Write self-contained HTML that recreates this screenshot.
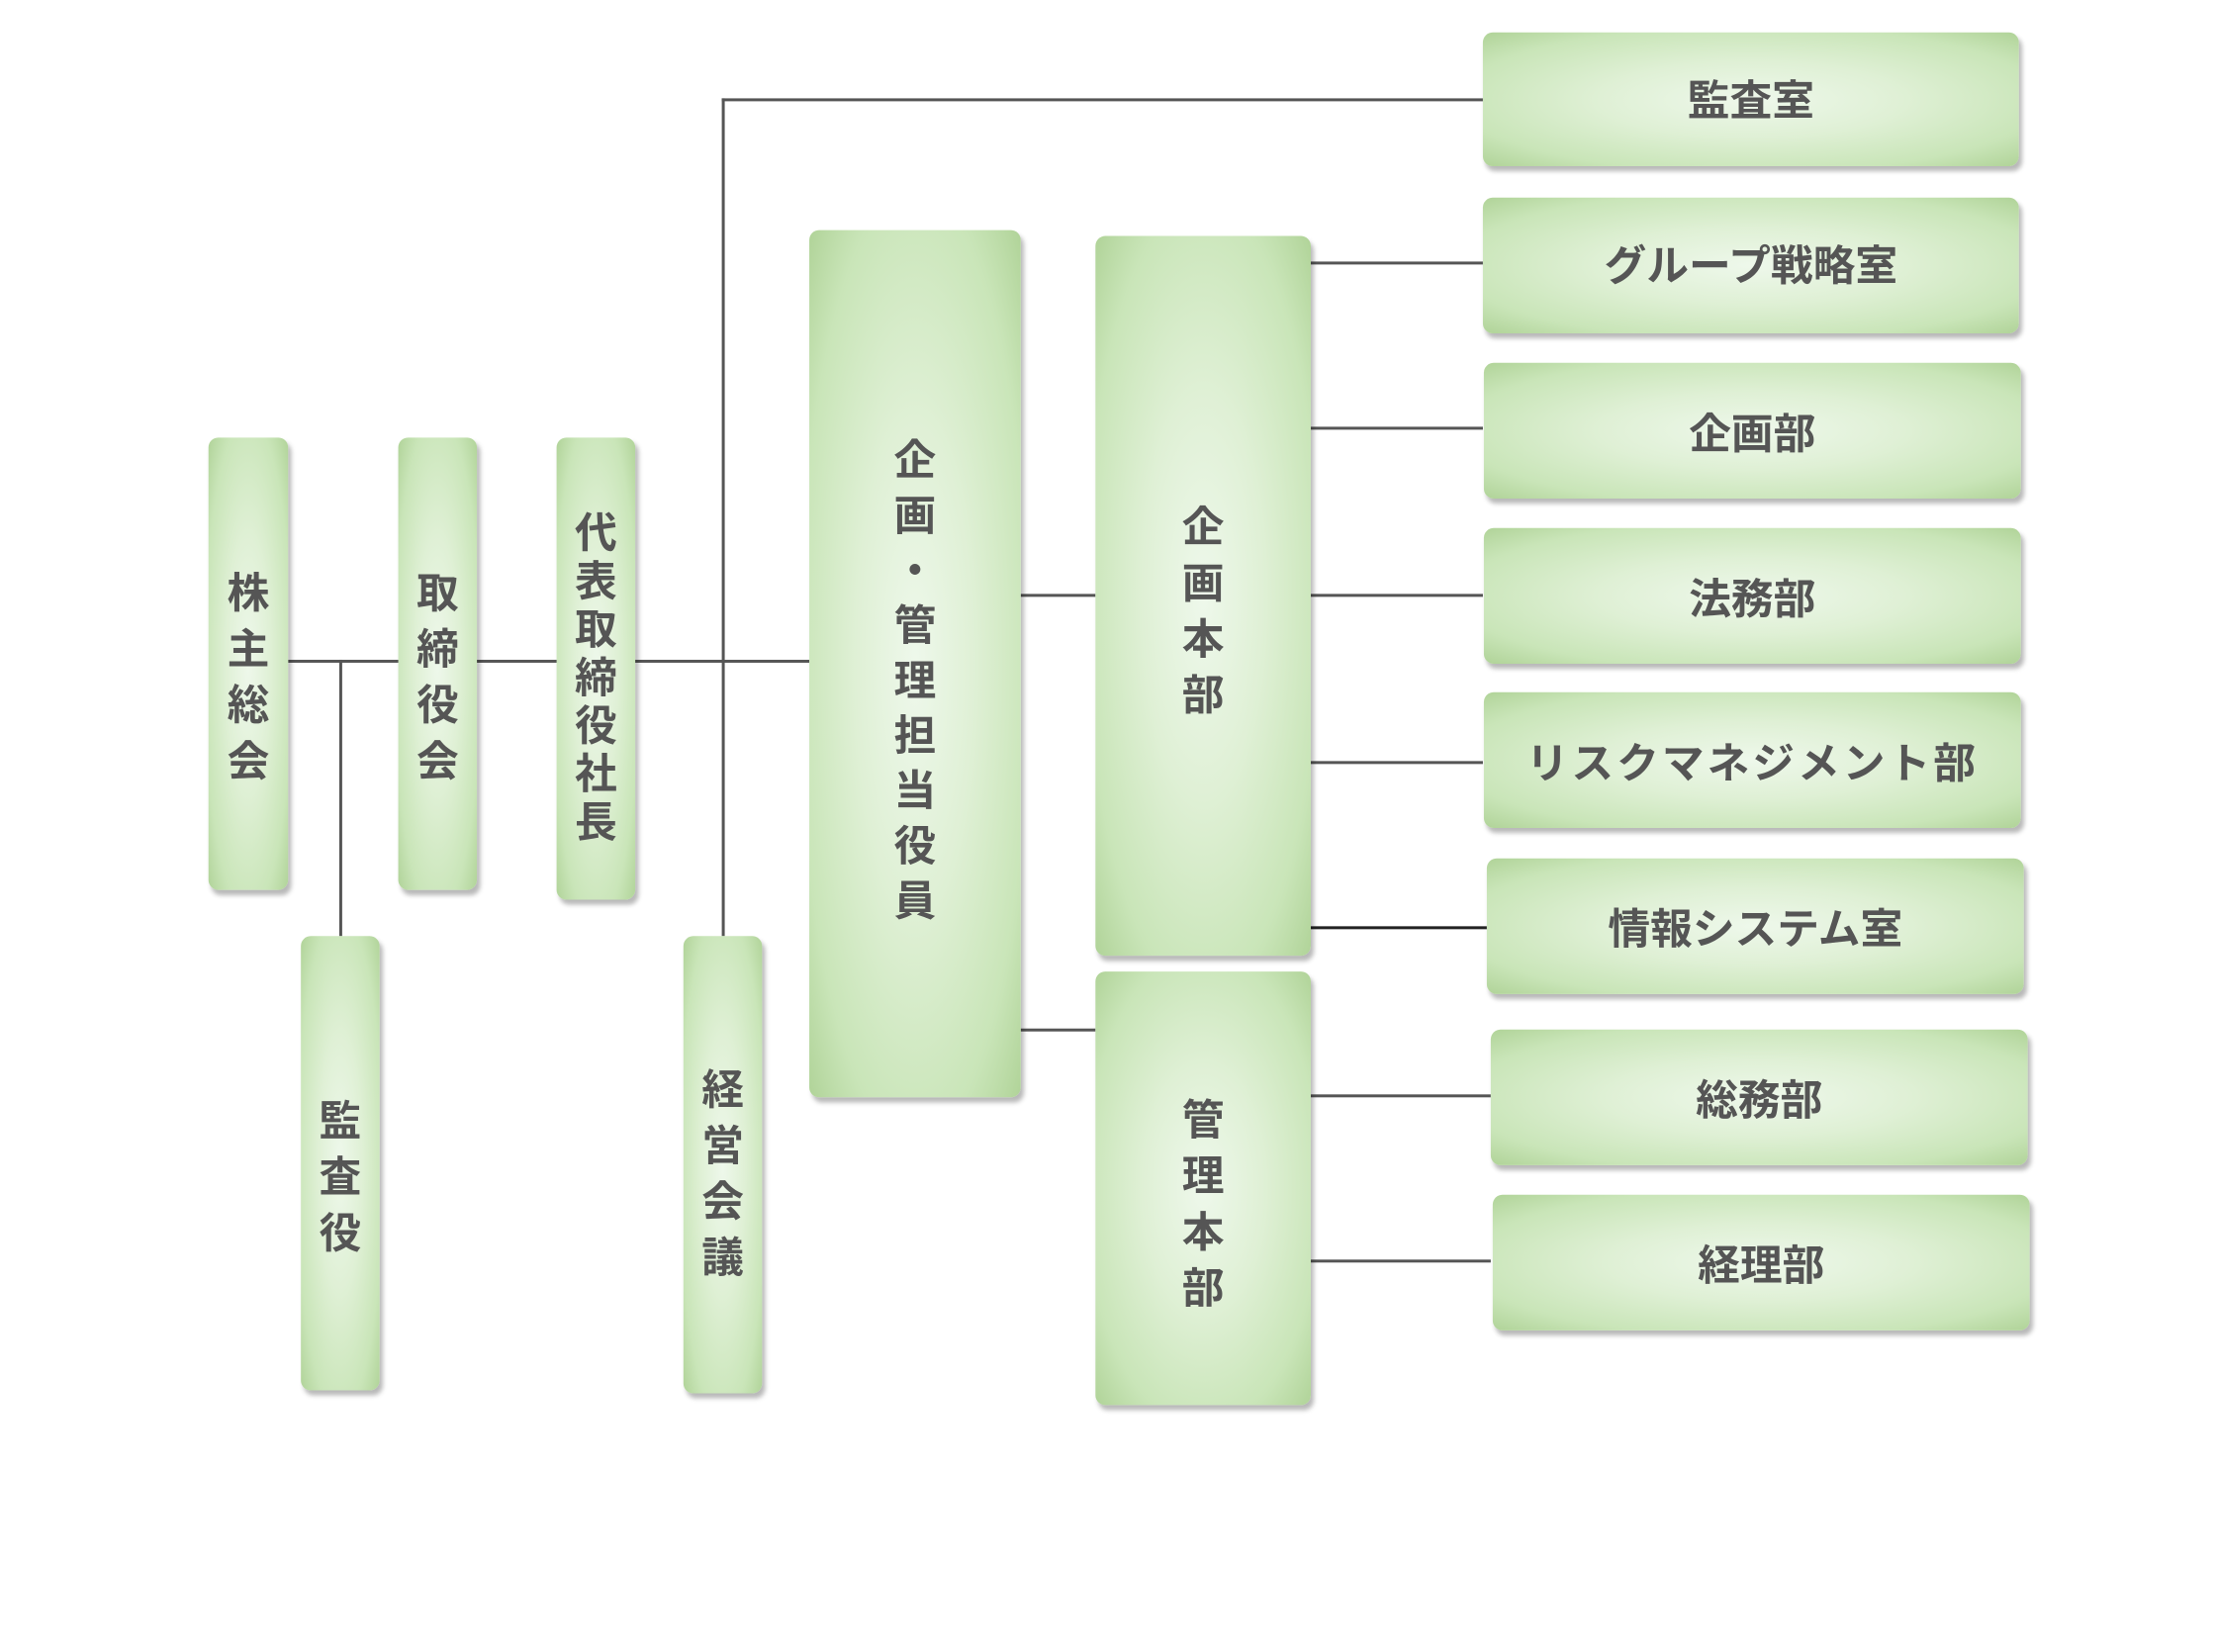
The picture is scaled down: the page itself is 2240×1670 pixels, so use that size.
<!DOCTYPE html>
<html><head><meta charset="utf-8"><style>
body{margin:0;width:2240px;height:1670px;background:#fff;position:relative;overflow:hidden;font-family:"Liberation Sans","Noto Sans CJK JP",sans-serif;}
#w{position:absolute;left:0;top:0;width:2240px;height:1670px;transform:scale(0.994);transform-origin:0 0;}
.b{position:absolute;border-radius:10px;background:radial-gradient(ellipse at center,#eef8eb 0%,#dff0d5 40%,#c9e5b8 78%,#b0d398 100%);box-shadow:3px 5px 5px rgba(0,0,0,0.28);display:flex;align-items:center;justify-content:center;color:#555;font-weight:bold;font-size:43px;box-sizing:border-box;}
.v{flex-direction:column;}
.v span{display:block;line-height:1;}
.l{position:absolute;background:#555;}
</style></head><body><div id="w">
<div class="l" style="left:293px;top:671px;width:530px;height:3px"></div>
<div class="l" style="left:345px;top:671px;width:3px;height:281px"></div>
<div class="l" style="left:734px;top:100px;width:3px;height:852px"></div>
<div class="l" style="left:734px;top:100px;width:774px;height:3px"></div>
<div class="l" style="left:1038px;top:604px;width:76px;height:3px"></div>
<div class="l" style="left:1038px;top:1046px;width:76px;height:3px"></div>
<div class="l" style="left:1333px;top:266px;width:175px;height:3px"></div>
<div class="l" style="left:1333px;top:434px;width:175px;height:3px"></div>
<div class="l" style="left:1333px;top:604px;width:175px;height:3px"></div>
<div class="l" style="left:1333px;top:774px;width:175px;height:3px"></div>
<div class="l" style="left:1333px;top:942px;width:179px;height:3px;background:#222"></div>
<div class="l" style="left:1333px;top:1113px;width:183px;height:3px"></div>
<div class="l" style="left:1333px;top:1281px;width:183px;height:3px"></div>

<div class="b v" style="left:212px;top:445px;width:81px;height:460px;gap:14px;padding-top:30px"><span>株</span><span>主</span><span>総</span><span>会</span></div>
<div class="b v" style="left:405px;top:445px;width:80px;height:460px;gap:14px;padding-top:30px"><span>取</span><span>締</span><span>役</span><span>会</span></div>
<div class="b v" style="left:566px;top:445px;width:80px;height:470px;gap:6px;padding-top:20px"><span>代</span><span>表</span><span>取</span><span>締</span><span>役</span><span>社</span><span>長</span></div>
<div class="b v" style="left:306px;top:952px;width:80px;height:462px;gap:14px;padding-top:30px"><span>監</span><span>査</span><span>役</span></div>
<div class="b v" style="left:695px;top:952px;width:80px;height:465px;gap:14px;padding-top:20px"><span>経</span><span>営</span><span>会</span><span>議</span></div>
<div class="b v" style="left:823px;top:234px;width:215px;height:882px;gap:13px;padding-top:36px"><span>企</span><span>画</span><span>・</span><span>管</span><span>理</span><span>担</span><span>当</span><span>役</span><span>員</span></div>
<div class="b v" style="left:1114px;top:240px;width:219px;height:732px;gap:14px;padding-top:34px"><span>企</span><span>画</span><span>本</span><span>部</span></div>
<div class="b v" style="left:1114px;top:988px;width:219px;height:441px;gap:14px;padding-top:34px"><span>管</span><span>理</span><span>本</span><span>部</span></div>

<div class="b" style="left:1508px;top:33px;width:545px;height:136px;padding-bottom:4px">監査室</div>
<div class="b" style="left:1508px;top:201px;width:545px;height:138px;padding-bottom:6px">グループ戦略室</div>
<div class="b" style="left:1509px;top:369px;width:546px;height:138px">企画部</div>
<div class="b" style="left:1509px;top:537px;width:546px;height:138px">法務部</div>
<div class="b" style="left:1509px;top:704px;width:546px;height:138px;letter-spacing:3px">リスクマネジメント部</div>
<div class="b" style="left:1512px;top:873px;width:546px;height:138px">情報システム室</div>
<div class="b" style="left:1516px;top:1047px;width:546px;height:138px">総務部</div>
<div class="b" style="left:1518px;top:1215px;width:546px;height:138px">経理部</div>
</div></body></html>
